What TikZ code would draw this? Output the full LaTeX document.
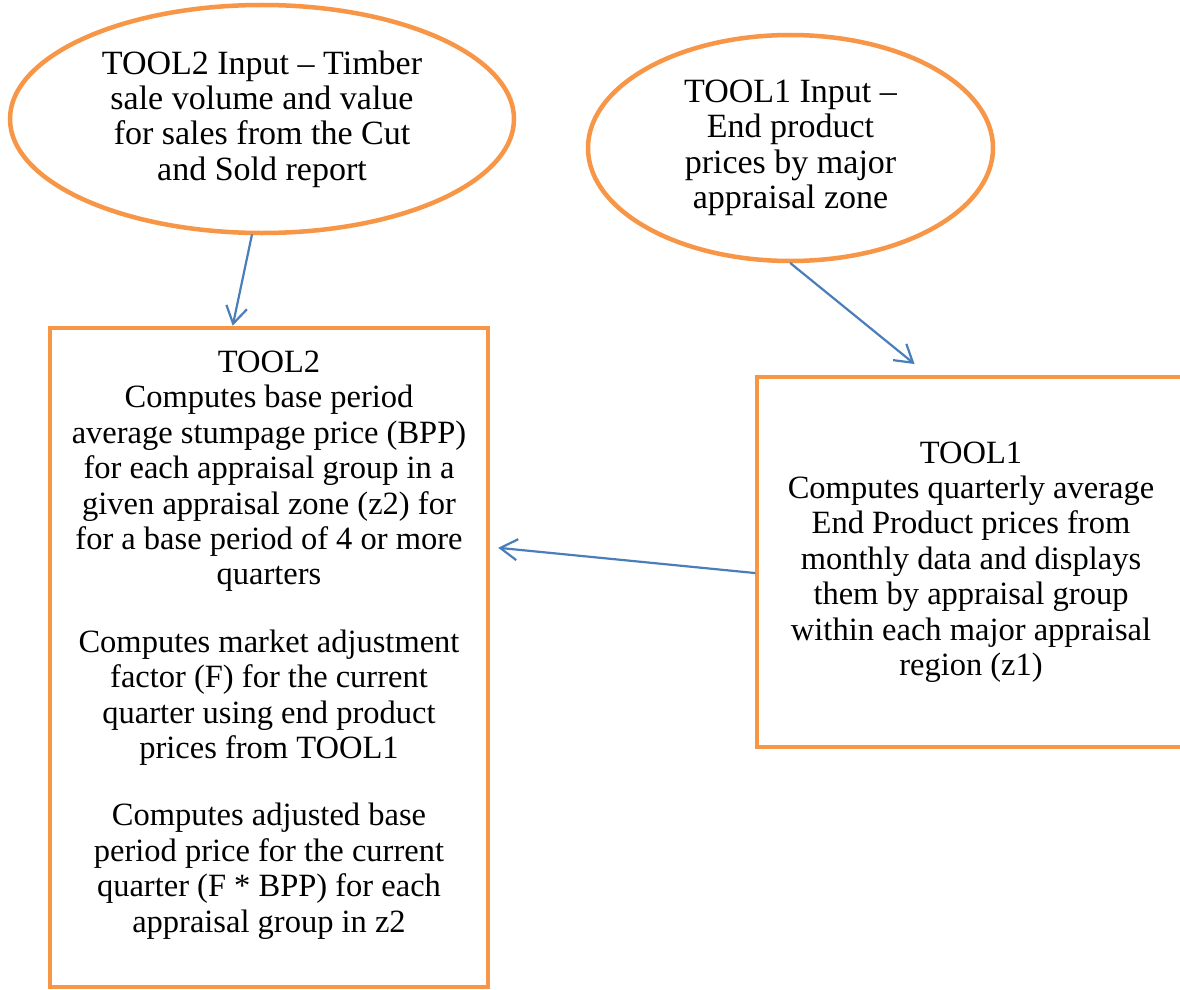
\documentclass[tikz,border=0pt]{standalone}
\usepackage{fontspec}
\setmainfont{Liberation Serif}
\usetikzlibrary{arrows.meta,shapes.geometric,calc}
\definecolor{orng}{HTML}{F79646}
\definecolor{arrblue}{HTML}{4A7EBB}
\begin{document}
\begin{tikzpicture}[x=1pt,y=-1pt,
  txt/.style={align=center,font=\fontsize{32.5}{35.4}\selectfont,inner sep=0pt},
  eltxt/.style={align=center,font=\fontsize{34}{35.4}\selectfont,inner sep=0pt},
  inellipse/.style={ellipse,draw=orng,line width=4.5pt,inner sep=0pt,eltxt},
  toolbox/.style={rectangle,draw=orng,line width=4.5pt,inner sep=0pt,txt},
  conn/.style={draw=arrblue,line width=2.2pt,line cap=round,-{Straight Barb[length=17pt,width=21pt,line width=2.2pt]}}]
\useasboundingbox (0,0) rectangle (1180,990);
\fill[white] (0,0) rectangle (1180,990);
\node[inellipse,minimum width=504pt,minimum height=228pt] (in2) at (262,119)
  {TOOL2 Input -- Timber\\sale volume and value\\for sales from the Cut\\and Sold report};
\node[inellipse,minimum width=405pt,minimum height=226pt] (in1) at (790.5,148)
  {TOOL1 Input --\\End product\\prices by major\\appraisal zone};
\node[toolbox,minimum width=438pt,minimum height=659pt] (tool2box) at (269,657.5) {};
\node[txt] (tool2txt) at (269,645)
  {TOOL2\\
   Computes base period\\
   average stumpage price (BPP)\\
   for each appraisal group in a\\
   given appraisal zone (z2) for\\
   for a base period of 4 or more\\
   quarters\\[32pt]
   Computes market adjustment\\
   factor (F) for the current\\
   quarter using end product\\
   prices from TOOL1\\[32pt]
   Computes adjusted base\\
   period price for the current\\
   quarter (F * BPP) for each\\
   appraisal group in z2};
\node[toolbox,minimum width=428pt,minimum height=370pt] (tool1box) at (971,562)
  {TOOL1\\
   Computes quarterly average\\
   End Product prices from\\
   monthly data and displays\\
   them by appraisal group\\
   within each major appraisal\\
   region (z1)};
\draw[conn] (in2.265) -- ($(tool2box.north west)!0.418!(tool2box.north east)$);
\draw[conn,shorten >=17pt] (in1.south) -- ($(tool1box.north west)!0.4!(tool1box.north east)$);
\draw[conn,shorten >=8pt] ($(tool1box.west)+(0,11)$) -- ($(tool2box.east)+(0,-110.5)$);
\end{tikzpicture}
\end{document}
